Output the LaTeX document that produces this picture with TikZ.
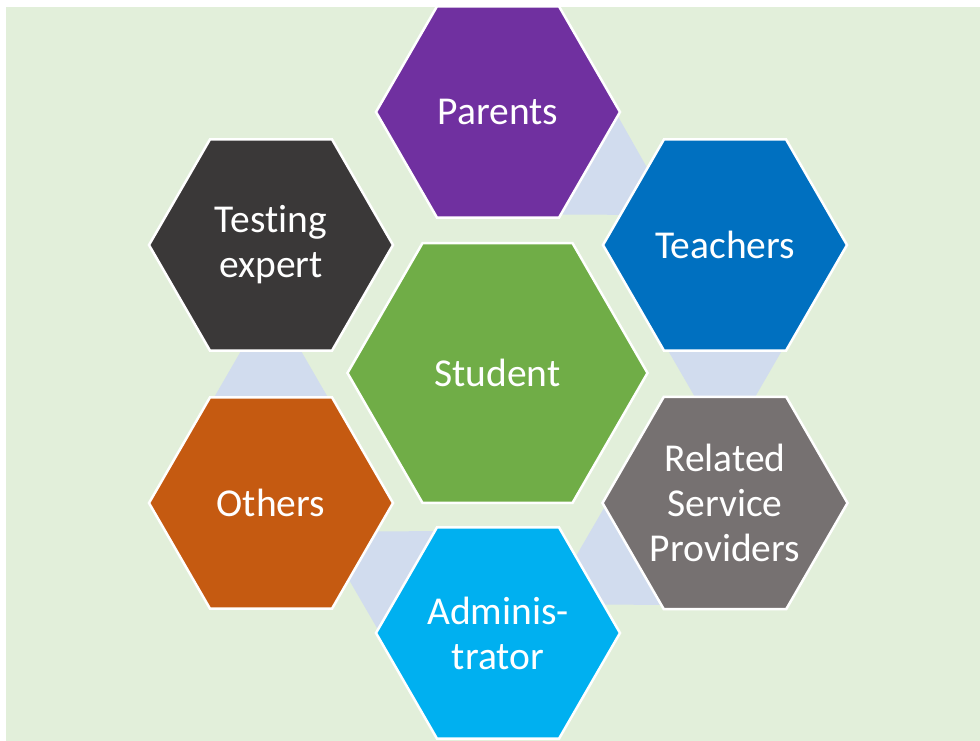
\documentclass[tikz,border=0pt]{standalone}
\usepackage{fontspec}
\setmainfont{Carlito}[Ligatures=NoCommon]
\usetikzlibrary{shapes.geometric,calc}
\definecolor{bggreen}{HTML}{E2EFDA}
\definecolor{connblue}{HTML}{D1DCEE}
\definecolor{cpar}{HTML}{7030A0}
\definecolor{ctea}{HTML}{0070C0}
\definecolor{crsp}{HTML}{767171}
\definecolor{cadm}{HTML}{00B0F0}
\definecolor{coth}{HTML}{C55A11}
\definecolor{ctst}{HTML}{3A3838}
\definecolor{cstu}{HTML}{70AD47}
\pgfdeclarelayer{bg}
\pgfdeclarelayer{conn}
\pgfsetlayers{bg,conn,main}
\tikzset{
  hexa/.style={regular polygon, regular polygon sides=6, minimum size=244pt,
    inner sep=0pt, outer sep=0pt, draw=white, line width=2.5pt, text=white,
    align=center, font=\fontsize{39.5}{45}\selectfont},
  bighexa/.style={hexa, minimum size=300pt},
  connector/.style={fill=connblue},
}
\newcommand{\linkshape}[2]{%
  \fill[connector] ($(#1.center)!118pt!90:(#2.center)$) -- ($(#1.center)!204pt!(#2.center)$)
     -- ($(#1.center)!118pt!-90:(#2.center)$) -- cycle;}
\begin{document}
\begin{tikzpicture}[x=1pt,y=-1pt]
\useasboundingbox (0,0) rectangle (980,741);
\begin{pgfonlayer}{bg}
\fill[white] (0,0) rectangle (980,741);
\fill[bggreen] (6,7) rectangle (980,741);
\end{pgfonlayer}
\node[hexa, fill=cpar] (par) at (498,112) {Parents};
\node[hexa, fill=ctea] (tea) at (725,245) {Teachers};
\node[hexa, fill=crsp] (rsp) at (725,503) {Related\\Service\\Providers};
\node[hexa, fill=cadm] (adm) at (498,633) {Adminis-\\trator};
\node[hexa, fill=coth] (oth) at (271,503) {Others};
\node[hexa, fill=ctst] (tst) at (271,245) {Testing\\expert};
\node[bighexa, fill=cstu] (stu) at (497.5,373) {Student};
\begin{pgfonlayer}{conn}
\linkshape{par}{tea}
\linkshape{tea}{rsp}
\linkshape{rsp}{adm}
\linkshape{adm}{oth}
\linkshape{oth}{tst}
\end{pgfonlayer}
\end{tikzpicture}
\end{document}
